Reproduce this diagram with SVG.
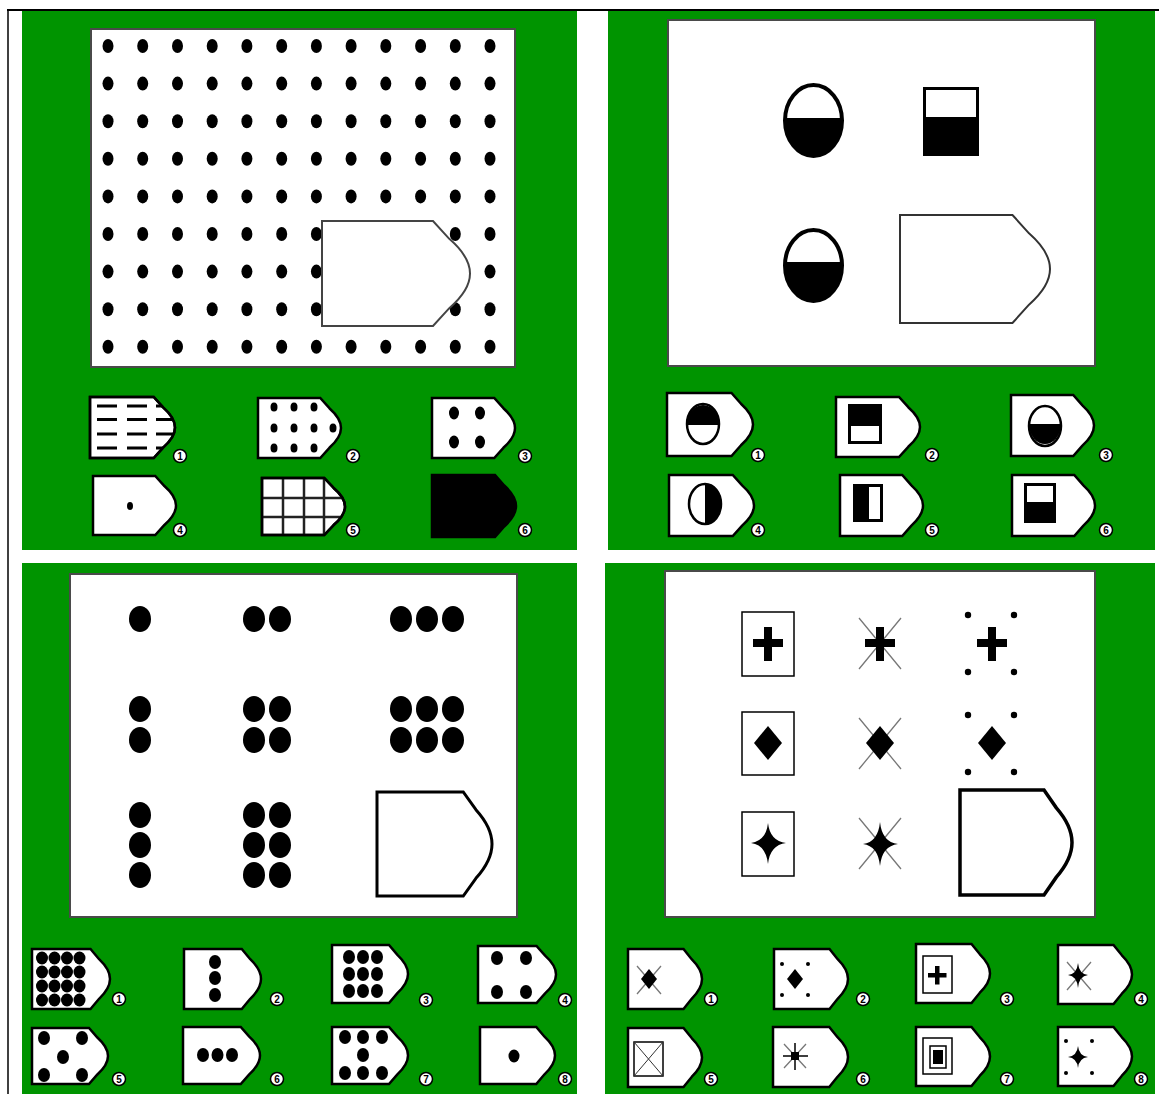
<svg xmlns="http://www.w3.org/2000/svg" xmlns:xlink="http://www.w3.org/1999/xlink" width="1159" height="1094" viewBox="0 0 1159 1094">
<style>
.g{fill:#009400}
.wp{fill:#fff;stroke:#4a4a4a;stroke-width:2}
.opt{fill:#fff;stroke:#000;stroke-width:2.5}
.b circle{fill:#fff;stroke:#000;stroke-width:1.5}
.b text{font-family:"Liberation Sans",Arial,sans-serif;font-weight:bold;font-size:10px;text-anchor:middle;fill:#000}
.k{fill:#000}
.x{stroke:#777;stroke-width:1.3}
.box{fill:none;stroke:#000;stroke-width:1.5}
</style>
<defs>
<path id="shp" d="M0,0 H75 L86,17 C95,28 100,38 100,50 C100,62 95,72 86,83 L75,100 H0 Z" vector-effect="non-scaling-stroke"/>
<g id="row">
<ellipse cx="108" cy="0" rx="5.5" ry="7"/><ellipse cx="142.7" cy="0" rx="5.5" ry="7"/><ellipse cx="177.5" cy="0" rx="5.5" ry="7"/><ellipse cx="212.2" cy="0" rx="5.5" ry="7"/><ellipse cx="246.9" cy="0" rx="5.5" ry="7"/><ellipse cx="281.7" cy="0" rx="5.5" ry="7"/><ellipse cx="316.4" cy="0" rx="5.5" ry="7"/><ellipse cx="351.1" cy="0" rx="5.5" ry="7"/><ellipse cx="385.8" cy="0" rx="5.5" ry="7"/><ellipse cx="420.6" cy="0" rx="5.5" ry="7"/><ellipse cx="455.3" cy="0" rx="5.5" ry="7"/><ellipse cx="490" cy="0" rx="5.5" ry="7"/>
</g>
<clipPath id="cTL1"><use xlink:href="#shp" transform="translate(90,397) scale(0.85,0.61)"/></clipPath>
<clipPath id="cTL5"><use xlink:href="#shp" transform="translate(262,478) scale(0.83,0.57)"/></clipPath>
</defs>

<rect x="0" y="0" width="1159" height="1094" fill="#fff"/>
<line x1="7" y1="10" x2="1159" y2="10" stroke="#000" stroke-width="2"/>
<line x1="8" y1="10" x2="8" y2="1094" stroke="#000" stroke-width="1.5"/>

<!-- Panel 1: top-left -->
<g id="panel-top-left">
<rect class="g" x="22" y="11" width="555" height="539"/>
<rect class="wp" x="91" y="29" width="424" height="338"/>
<g class="k">
<use xlink:href="#row" y="46"/><use xlink:href="#row" y="83.6"/><use xlink:href="#row" y="121.2"/><use xlink:href="#row" y="158.8"/><use xlink:href="#row" y="196.4"/><use xlink:href="#row" y="234"/><use xlink:href="#row" y="271.6"/><use xlink:href="#row" y="309.2"/><use xlink:href="#row" y="346.8"/>
</g>
<use xlink:href="#shp" transform="translate(322,221) scale(1.48,1.05)" fill="#fff" stroke="#444" stroke-width="2"/>
</g>
<g id="tl-opt1">
<use class="opt" xlink:href="#shp" transform="translate(90,397) scale(0.85,0.61)"/>
<g clip-path="url(#cTL1)" stroke="#000" stroke-width="3">
<path d="M97,406H117M127,406H147M156,406H182M97,419.5H117M127,419.5H147M156,419.5H182M97,434H117M127,434H147M156,434H182M97,448H117M127,448H147M156,448H182"/>
</g>
<use class="opt" xlink:href="#shp" transform="translate(90,397) scale(0.85,0.61)" style="fill:none"/>
<g class="b"><circle cx="180" cy="456" r="6.5"/><text x="180" y="459.5">1</text></g>
</g>
<g id="tl-opt2">
<use class="opt" xlink:href="#shp" transform="translate(258,398) scale(0.83,0.60)"/>
<g class="k"><ellipse cx="274" cy="407" rx="3.5" ry="4.5"/><ellipse cx="294" cy="407" rx="3.5" ry="4.5"/><ellipse cx="314" cy="407" rx="3.5" ry="4.5"/><ellipse cx="274" cy="428" rx="3.5" ry="4.5"/><ellipse cx="294" cy="428" rx="3.5" ry="4.5"/><ellipse cx="314" cy="428" rx="3.5" ry="4.5"/><ellipse cx="333" cy="428" rx="3.5" ry="4.5"/><ellipse cx="274" cy="448" rx="3.5" ry="4.5"/><ellipse cx="294" cy="448" rx="3.5" ry="4.5"/><ellipse cx="314" cy="448" rx="3.5" ry="4.5"/></g>
<g class="b"><circle cx="353" cy="456" r="6.5"/><text x="353" y="459.5">2</text></g>
</g>
<g id="tl-opt3">
<use class="opt" xlink:href="#shp" transform="translate(432,398) scale(0.83,0.60)"/>
<g class="k"><ellipse cx="454" cy="413" rx="5" ry="6.5"/><ellipse cx="480" cy="413" rx="5" ry="6.5"/><ellipse cx="454" cy="442" rx="5" ry="6.5"/><ellipse cx="480" cy="442" rx="5" ry="6.5"/></g>
<g class="b"><circle cx="525" cy="456" r="6.5"/><text x="525" y="459.5">3</text></g>
</g>
<g id="tl-opt4">
<use class="opt" xlink:href="#shp" transform="translate(93,476) scale(0.83,0.59)"/>
<ellipse class="k" cx="130" cy="506" rx="3" ry="4"/>
<g class="b"><circle cx="180" cy="530" r="6.5"/><text x="180" y="533.5">4</text></g>
</g>
<g id="tl-opt5">
<use class="opt" xlink:href="#shp" transform="translate(262,478) scale(0.83,0.57)"/>
<g clip-path="url(#cTL5)" stroke="#222" stroke-width="2.5">
<path d="M283,476V537M304,476V537M324,476V537M260,498H350M260,517H350"/>
</g>
<use class="opt" xlink:href="#shp" transform="translate(262,478) scale(0.83,0.57)" style="fill:none"/>
<g class="b"><circle cx="353" cy="530" r="6.5"/><text x="353" y="533.5">5</text></g>
</g>
<g id="tl-opt6">
<use class="opt" xlink:href="#shp" transform="translate(432,475) scale(0.84,0.62)" style="fill:#000"/>
<g class="b"><circle cx="525" cy="530" r="6.5"/><text x="525" y="533.5">6</text></g>
</g>

<!-- Panel 2: top-right -->
<g id="panel-top-right">
<rect class="g" x="608" y="11" width="547" height="539"/>
<rect class="wp" x="668" y="20" width="427" height="346"/>
<ellipse cx="813.5" cy="120.5" rx="28.5" ry="35.5" fill="#fff" stroke="#000" stroke-width="4"/>
<path d="M785,118 H842 A28.5,35.5 0 0 1 813.5,156 A28.5,35.5 0 0 1 785,118 Z" fill="#000"/>
<rect x="924.5" y="88.5" width="53" height="66" fill="#fff" stroke="#000" stroke-width="3"/>
<rect x="923" y="117" width="56" height="39" fill="#000"/>
<ellipse cx="813.5" cy="265.5" rx="28.5" ry="35.5" fill="#fff" stroke="#000" stroke-width="4"/>
<path d="M785,262 H842 A28.5,35.5 0 0 1 813.5,301 A28.5,35.5 0 0 1 785,262 Z" fill="#000"/>
<use xlink:href="#shp" transform="translate(900,215) scale(1.50,1.08)" fill="#fff" stroke="#333" stroke-width="2"/>
</g>
<g id="tr-opt1">
<use class="opt" xlink:href="#shp" transform="translate(667,393) scale(0.86,0.63)"/>
<ellipse cx="703" cy="424" rx="16" ry="20" fill="#fff" stroke="#000" stroke-width="2.5"/>
<path d="M687,425 A16,20 0 0 1 719,425 Z" fill="#000"/>
<g class="b"><circle cx="758" cy="455" r="6.5"/><text x="758" y="458.5">1</text></g>
</g>
<g id="tr-opt2">
<use class="opt" xlink:href="#shp" transform="translate(836,397) scale(0.84,0.60)"/>
<rect x="849.5" y="405.5" width="31" height="37" fill="#fff" stroke="#000" stroke-width="3"/>
<rect x="848" y="404" width="34" height="22" fill="#000"/>
<g class="b"><circle cx="932" cy="455" r="6.5"/><text x="932" y="458.5">2</text></g>
</g>
<g id="tr-opt3">
<use class="opt" xlink:href="#shp" transform="translate(1011,395) scale(0.83,0.61)"/>
<ellipse cx="1045" cy="426" rx="16" ry="20" fill="#fff" stroke="#000" stroke-width="2.5"/>
<path d="M1029,424 H1061 A16,20 0 0 1 1029,424 Z" fill="#000"/>
<g class="b"><circle cx="1106" cy="455" r="6.5"/><text x="1106" y="458.5">3</text></g>
</g>
<g id="tr-opt4">
<use class="opt" xlink:href="#shp" transform="translate(669,475) scale(0.85,0.61)"/>
<ellipse cx="705" cy="504" rx="16" ry="20" fill="#fff" stroke="#000" stroke-width="2.5"/>
<path d="M705,484 A16,20 0 0 1 705,524 Z" fill="#000"/>
<g class="b"><circle cx="758" cy="530" r="6.5"/><text x="758" y="533.5">4</text></g>
</g>
<g id="tr-opt5">
<use class="opt" xlink:href="#shp" transform="translate(840,475) scale(0.83,0.61)"/>
<rect x="854.5" y="485.5" width="27" height="35" fill="#fff" stroke="#000" stroke-width="3"/>
<rect x="853" y="484" width="16" height="38" fill="#000"/>
<g class="b"><circle cx="932" cy="530" r="6.5"/><text x="932" y="533.5">5</text></g>
</g>
<g id="tr-opt6">
<use class="opt" xlink:href="#shp" transform="translate(1012,475) scale(0.83,0.61)"/>
<rect x="1025.5" y="484.5" width="29" height="37" fill="#fff" stroke="#000" stroke-width="3"/>
<rect x="1024" y="502" width="32" height="21" fill="#000"/>
<g class="b"><circle cx="1106" cy="530" r="6.5"/><text x="1106" y="533.5">6</text></g>
</g>

<!-- Panel 3: bottom-left -->
<g id="panel-bottom-left">
<rect class="g" x="22" y="563" width="555" height="531"/>
<rect class="wp" x="70" y="574" width="447" height="343"/>
<g class="k">
<ellipse cx="140" cy="619" rx="11" ry="13"/>
<ellipse cx="254" cy="619" rx="11" ry="13"/><ellipse cx="280" cy="619" rx="11" ry="13"/>
<ellipse cx="401" cy="619" rx="11" ry="13"/><ellipse cx="427" cy="619" rx="11" ry="13"/><ellipse cx="453" cy="619" rx="11" ry="13"/>
<ellipse cx="140" cy="709" rx="11" ry="13"/><ellipse cx="140" cy="740" rx="11" ry="13"/>
<ellipse cx="254" cy="709" rx="11" ry="13"/><ellipse cx="280" cy="709" rx="11" ry="13"/><ellipse cx="254" cy="740" rx="11" ry="13"/><ellipse cx="280" cy="740" rx="11" ry="13"/>
<ellipse cx="401" cy="709" rx="11" ry="13"/><ellipse cx="427" cy="709" rx="11" ry="13"/><ellipse cx="453" cy="709" rx="11" ry="13"/>
<ellipse cx="401" cy="740" rx="11" ry="13"/><ellipse cx="427" cy="740" rx="11" ry="13"/><ellipse cx="453" cy="740" rx="11" ry="13"/>
<ellipse cx="140" cy="815" rx="11" ry="13"/><ellipse cx="140" cy="845" rx="11" ry="13"/><ellipse cx="140" cy="875" rx="11" ry="13"/>
<ellipse cx="254" cy="815" rx="11" ry="13"/><ellipse cx="280" cy="815" rx="11" ry="13"/><ellipse cx="254" cy="845" rx="11" ry="13"/><ellipse cx="280" cy="845" rx="11" ry="13"/><ellipse cx="254" cy="875" rx="11" ry="13"/><ellipse cx="280" cy="875" rx="11" ry="13"/>
</g>
<use xlink:href="#shp" transform="translate(377,792) scale(1.15,1.04)" fill="#fff" stroke="#000" stroke-width="3"/>
</g>
<g id="bl-opt1">
<use class="opt" xlink:href="#shp" transform="translate(32,949) scale(0.78,0.60)"/>
<g class="k">
<ellipse cx="42" cy="958" rx="6" ry="6.5"/><ellipse cx="54.5" cy="958" rx="6" ry="6.5"/><ellipse cx="67" cy="958" rx="6" ry="6.5"/><ellipse cx="79.5" cy="958" rx="6" ry="6.5"/>
<ellipse cx="42" cy="972" rx="6" ry="6.5"/><ellipse cx="54.5" cy="972" rx="6" ry="6.5"/><ellipse cx="67" cy="972" rx="6" ry="6.5"/><ellipse cx="79.5" cy="972" rx="6" ry="6.5"/>
<ellipse cx="42" cy="986" rx="6" ry="6.5"/><ellipse cx="54.5" cy="986" rx="6" ry="6.5"/><ellipse cx="67" cy="986" rx="6" ry="6.5"/><ellipse cx="79.5" cy="986" rx="6" ry="6.5"/>
<ellipse cx="42" cy="1000" rx="6" ry="6.5"/><ellipse cx="54.5" cy="1000" rx="6" ry="6.5"/><ellipse cx="67" cy="1000" rx="6" ry="6.5"/><ellipse cx="79.5" cy="1000" rx="6" ry="6.5"/>
</g>
<g class="b"><circle cx="119" cy="999" r="6.5"/><text x="119" y="1002.5">1</text></g>
</g>
<g id="bl-opt2">
<use class="opt" xlink:href="#shp" transform="translate(184,949) scale(0.77,0.60)"/>
<g class="k"><ellipse cx="215" cy="962" rx="6" ry="7"/><ellipse cx="215" cy="978" rx="6" ry="7"/><ellipse cx="215" cy="995" rx="6" ry="7"/></g>
<g class="b"><circle cx="277" cy="999" r="6.5"/><text x="277" y="1002.5">2</text></g>
</g>
<g id="bl-opt3">
<use class="opt" xlink:href="#shp" transform="translate(332,945) scale(0.76,0.58)"/>
<g class="k">
<ellipse cx="349" cy="957" rx="6" ry="7"/><ellipse cx="363" cy="957" rx="6" ry="7"/><ellipse cx="377" cy="957" rx="6" ry="7"/>
<ellipse cx="349" cy="974" rx="6" ry="7"/><ellipse cx="363" cy="974" rx="6" ry="7"/><ellipse cx="377" cy="974" rx="6" ry="7"/>
<ellipse cx="349" cy="991" rx="6" ry="7"/><ellipse cx="363" cy="991" rx="6" ry="7"/><ellipse cx="377" cy="991" rx="6" ry="7"/>
</g>
<g class="b"><circle cx="426" cy="1000" r="6.5"/><text x="426" y="1003.5">3</text></g>
</g>
<g id="bl-opt4">
<use class="opt" xlink:href="#shp" transform="translate(478,946) scale(0.78,0.57)"/>
<g class="k"><ellipse cx="497" cy="958" rx="6" ry="7"/><ellipse cx="526" cy="958" rx="6" ry="7"/><ellipse cx="497" cy="992" rx="6" ry="7"/><ellipse cx="526" cy="992" rx="6" ry="7"/></g>
<g class="b"><circle cx="565" cy="1000" r="6.5"/><text x="565" y="1003.5">4</text></g>
</g>
<g id="bl-opt5">
<use class="opt" xlink:href="#shp" transform="translate(32,1028) scale(0.76,0.56)"/>
<g class="k"><ellipse cx="44" cy="1038" rx="6" ry="7"/><ellipse cx="82" cy="1038" rx="6" ry="7"/><ellipse cx="63" cy="1057" rx="6" ry="7"/><ellipse cx="44" cy="1075" rx="6" ry="7"/><ellipse cx="82" cy="1075" rx="6" ry="7"/></g>
<g class="b"><circle cx="119" cy="1079" r="6.5"/><text x="119" y="1082.5">5</text></g>
</g>
<g id="bl-opt6">
<use class="opt" xlink:href="#shp" transform="translate(183,1027) scale(0.77,0.57)"/>
<g class="k"><ellipse cx="203" cy="1055" rx="6" ry="7"/><ellipse cx="217.5" cy="1055" rx="6" ry="7"/><ellipse cx="232" cy="1055" rx="6" ry="7"/></g>
<g class="b"><circle cx="277" cy="1079" r="6.5"/><text x="277" y="1082.5">6</text></g>
</g>
<g id="bl-opt7">
<use class="opt" xlink:href="#shp" transform="translate(332,1027) scale(0.76,0.57)"/>
<g class="k"><ellipse cx="345" cy="1037" rx="6" ry="7"/><ellipse cx="363" cy="1037" rx="6" ry="7"/><ellipse cx="382" cy="1037" rx="6" ry="7"/><ellipse cx="363" cy="1055" rx="6" ry="7"/><ellipse cx="345" cy="1073" rx="6" ry="7"/><ellipse cx="363" cy="1073" rx="6" ry="7"/><ellipse cx="382" cy="1073" rx="6" ry="7"/></g>
<g class="b"><circle cx="426" cy="1079" r="6.5"/><text x="426" y="1082.5">7</text></g>
</g>
<g id="bl-opt8">
<use class="opt" xlink:href="#shp" transform="translate(480,1027) scale(0.75,0.57)"/>
<ellipse class="k" cx="514" cy="1056" rx="5.5" ry="6.5"/>
<g class="b"><circle cx="565" cy="1079" r="6.5"/><text x="565" y="1082.5">8</text></g>
</g>

<!-- Panel 4: bottom-right -->
<g id="panel-bottom-right">
<rect class="g" x="605" y="563" width="550" height="531"/>
<rect class="wp" x="665" y="571" width="430" height="346"/>
<rect class="box" x="742" y="612" width="52" height="64"/>
<rect class="box" x="742" y="712" width="52" height="63"/>
<rect class="box" x="742" y="812" width="52" height="64"/>
<path class="k" d="M764,627h8v12h11v8h-11v14h-8v-14h-11v-8h11z"/>
<path class="x" d="M859,618L901,669M901,618L859,669"/>
<path class="k" d="M876,627h8v12h11v8h-11v14h-8v-14h-11v-8h11z"/>
<path class="k" d="M988,627h8v12h11v8h-11v14h-8v-14h-11v-8h11z"/>
<g class="k"><circle cx="968" cy="615" r="3.2"/><circle cx="1014" cy="615" r="3.2"/><circle cx="968" cy="672" r="3.2"/><circle cx="1014" cy="672" r="3.2"/></g>
<path class="k" d="M768,726L782,743L768,760L754,743Z"/>
<path class="x" d="M859,718L901,769M901,718L859,769"/>
<path class="k" d="M880,726L894,743L880,760L866,743Z"/>
<path class="k" d="M992,726L1006,743L992,760L978,743Z"/>
<g class="k"><circle cx="968" cy="715" r="3.2"/><circle cx="1014" cy="715" r="3.2"/><circle cx="968" cy="772" r="3.2"/><circle cx="1014" cy="772" r="3.2"/></g>
<path class="k" d="M751,843Q766,841 768,823Q770,841 786,843Q770,845 768,864Q766,845 751,843Z"/>
<path class="x" d="M859,818L901,869M901,818L859,869"/>
<path class="k" d="M863,844Q878,842 880,822Q882,842 898,844Q882,846 880,866Q878,846 863,844Z"/>
<use xlink:href="#shp" transform="translate(960,790) scale(1.12,1.05)" fill="#fff" stroke="#000" stroke-width="3.5"/>
</g>
<g id="br-opt1">
<use class="opt" xlink:href="#shp" transform="translate(628,949) scale(0.74,0.60)"/>
<path class="x" d="M637,966L661,994M661,966L637,994"/>
<path class="k" d="M649,969L657,979L649,989L641,979Z"/>
<g class="b"><circle cx="711" cy="999" r="6.5"/><text x="711" y="1002.5">1</text></g>
</g>
<g id="br-opt2">
<use class="opt" xlink:href="#shp" transform="translate(774,949) scale(0.74,0.60)"/>
<path class="k" d="M795,969L803,979L795,989L787,979Z"/>
<g class="k"><circle cx="782" cy="964" r="2"/><circle cx="808" cy="964" r="2"/><circle cx="782" cy="995" r="2"/><circle cx="808" cy="995" r="2"/></g>
<g class="b"><circle cx="863" cy="999" r="6.5"/><text x="863" y="1002.5">2</text></g>
</g>
<g id="br-opt3">
<use class="opt" xlink:href="#shp" transform="translate(916,944) scale(0.74,0.59)"/>
<rect class="box" x="923" y="956" width="29" height="37" stroke-width="1.2"/>
<path class="k" d="M935,966h4.5v7h7v4.5h-7v7h-4.5v-7h-7v-4.5h7z"/>
<g class="b"><circle cx="1007" cy="999" r="6.5"/><text x="1007" y="1002.5">3</text></g>
</g>
<g id="br-opt4">
<use class="opt" xlink:href="#shp" transform="translate(1058,945) scale(0.74,0.59)"/>
<path class="x" d="M1067,962L1091,990M1091,962L1067,990"/>
<path class="k" d="M1068,975Q1077,974 1078,963Q1079,974 1088,975Q1079,976 1078,988Q1077,976 1068,975Z"/>
<g class="b"><circle cx="1141" cy="999" r="6.5"/><text x="1141" y="1002.5">4</text></g>
</g>
<g id="br-opt5">
<use class="opt" xlink:href="#shp" transform="translate(628,1028) scale(0.74,0.59)"/>
<rect class="box" x="634" y="1042" width="29" height="34" stroke-width="1.2"/>
<path d="M634,1042L663,1076M663,1042L634,1076" stroke="#333" stroke-width="1"/>
<g class="b"><circle cx="711" cy="1079" r="6.5"/><text x="711" y="1082.5">5</text></g>
</g>
<g id="br-opt6">
<use class="opt" xlink:href="#shp" transform="translate(773,1027) scale(0.75,0.60)"/>
<path class="x" d="M784,1044L806,1068M806,1044L784,1068"/>
<path d="M783,1056H808M795,1043V1070" stroke="#000" stroke-width="1.5"/>
<rect class="k" x="791" y="1052" width="8" height="8"/>
<g class="b"><circle cx="863" cy="1079" r="6.5"/><text x="863" y="1082.5">6</text></g>
</g>
<g id="br-opt7">
<use class="opt" xlink:href="#shp" transform="translate(916,1027) scale(0.74,0.59)"/>
<rect class="box" x="923" y="1038" width="29" height="36" stroke-width="1.2"/>
<rect class="box" x="930" y="1046" width="16" height="22" stroke-width="1.2"/>
<rect class="k" x="933" y="1050" width="10" height="14"/>
<g class="b"><circle cx="1007" cy="1079" r="6.5"/><text x="1007" y="1082.5">7</text></g>
</g>
<g id="br-opt8">
<use class="opt" xlink:href="#shp" transform="translate(1058,1027) scale(0.74,0.59)"/>
<path class="k" d="M1068,1057Q1077,1056 1078,1046Q1079,1056 1088,1057Q1079,1058 1078,1068Q1077,1058 1068,1057Z"/>
<g class="k"><circle cx="1066" cy="1041" r="2"/><circle cx="1092" cy="1041" r="2"/><circle cx="1066" cy="1073" r="2"/><circle cx="1092" cy="1073" r="2"/></g>
<g class="b"><circle cx="1141" cy="1079" r="6.5"/><text x="1141" y="1082.5">8</text></g>
</g>
</svg>
